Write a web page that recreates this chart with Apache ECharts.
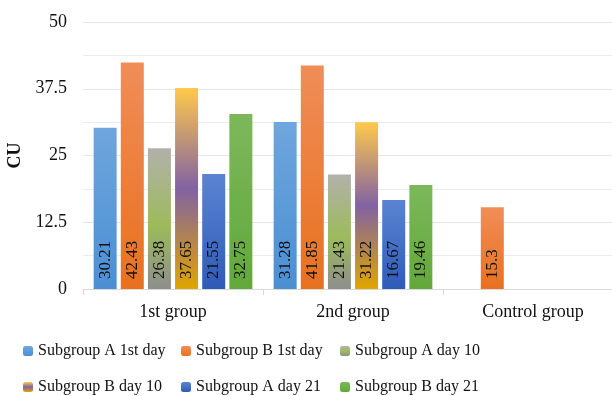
<!DOCTYPE html>
<html>
<head>
<meta charset="utf-8">
<script src="https://cdn.jsdelivr.net/npm/echarts@6/dist/echarts.min.js"></script>
<style>
  html, body { margin: 0; padding: 0; background: #ffffff; }
  #chart { width: 612px; height: 396px; }
</style>
</head>
<body>
<div id="chart"></div>
<script>
// Categories and series values (CU)
var categories = ['1st group', '2nd group', 'Control group'];
var seriesNames = [
  'Subgroup A 1st day', 'Subgroup B 1st day', 'Subgroup A day 10',
  'Subgroup B day 10', 'Subgroup A day 21', 'Subgroup B day 21'
];
var subAday1  = [30.21, 31.28, null];
var subBday1  = [42.43, 41.85, 15.3];
var subAday10 = [26.38, 21.43, null];
var subBday10 = [37.65, 31.22, null];
var subAday21 = [21.55, 16.67, null];
var subBday21 = [32.75, 19.46, null];
var yTicks = [0, 12.5, 25, 37.5, 50];

var serif = '"Liberation Serif", "Times New Roman", serif';

function vgrad(stops) {
  return new echarts.graphic.LinearGradient(0, 0, 0, 1,
    stops.map(function (s) { return { offset: s[0], color: s[1] }; }));
}

var fills = [
  vgrad([[0, '#6fa6dd'], [1, '#4b8fd3']]),
  vgrad([[0, '#f08d58'], [1, '#e8711f']]),
  vgrad([[0, '#b2b1aa'], [0.55, '#9cbb5b'], [1, '#8e8e8c']]),
  vgrad([[0, '#ffc94b'], [0.5, '#8262a3'], [1, '#e0a500']]),
  vgrad([[0, '#5b84d2'], [1, '#2f5bb8']]),
  vgrad([[0, '#7cb85b'], [1, '#63a83b']])
];

var values = [subAday1, subBday1, subAday10, subBday10, subAday21, subBday21];

var series = values.map(function (data, i) {
  return {
    name: seriesNames[i],
    type: 'bar',
    data: data,
    barWidth: 23,
    barGap: '18%',
    itemStyle: { color: fills[i] },
    label: {
      show: true,
      position: 'insideBottom',
      rotate: 90,
      align: 'left',
      verticalAlign: 'middle',
      distance: 10,
      color: '#111111',
      fontFamily: serif,
      fontSize: 17,
      formatter: function (p) { return p.value == null ? '' : String(p.value); }
    }
  };
});

var chart = echarts.init(document.getElementById('chart'), null, { renderer: 'canvas' });
var legendText = { fontFamily: serif, fontSize: 16, color: '#111111' };

// Legend laid out as a 3-column, 2-row block
var legendCols = [23, 181, 340];
var legendRows = [343, 379];
var legends = seriesNames.map(function (name, i) {
  return {
    left: legendCols[i % 3], top: legendRows[Math.floor(i / 3)],
    itemWidth: 10, itemHeight: 10, itemGap: 0,
    padding: [0, 0, 0, 0],
    textStyle: legendText, data: [name], selectedMode: false
  };
});

chart.setOption({
  animation: false,
  backgroundColor: '#ffffff',
  grid: { left: 83, width: 540, top: 22, bottom: 107, outerBoundsMode: 'none' },
  legend: legends,
  xAxis: {
    type: 'category',
    data: categories,
    axisLine: { lineStyle: { color: '#d9d9d9' } },
    axisTick: { show: true, length: 6, lineStyle: { color: '#d9d9d9' } },
    axisLabel: { fontFamily: serif, fontSize: 18, color: '#111111', margin: 14 }
  },
  yAxis: {
    type: 'value',
    min: yTicks[0],
    max: yTicks[yTicks.length - 1],
    interval: 12.5,
    name: 'CU',
    nameLocation: 'middle',
    nameGap: 56,
    nameRotate: 90,
    nameTextStyle: { fontFamily: serif, fontSize: 18, fontWeight: 'bold', color: '#111111' },
    axisLine: { show: false },
    axisTick: { show: false },
    axisLabel: { fontFamily: serif, fontSize: 18, color: '#111111', margin: 16 },
    splitLine: { lineStyle: { color: '#e3e6eb', width: 1 } },
    minorTick: { show: false, splitNumber: 2 },
    minorSplitLine: { show: true, lineStyle: { color: '#e8ebef', width: 1 } }
  },
  series: series
});
</script>
</body>
</html>
